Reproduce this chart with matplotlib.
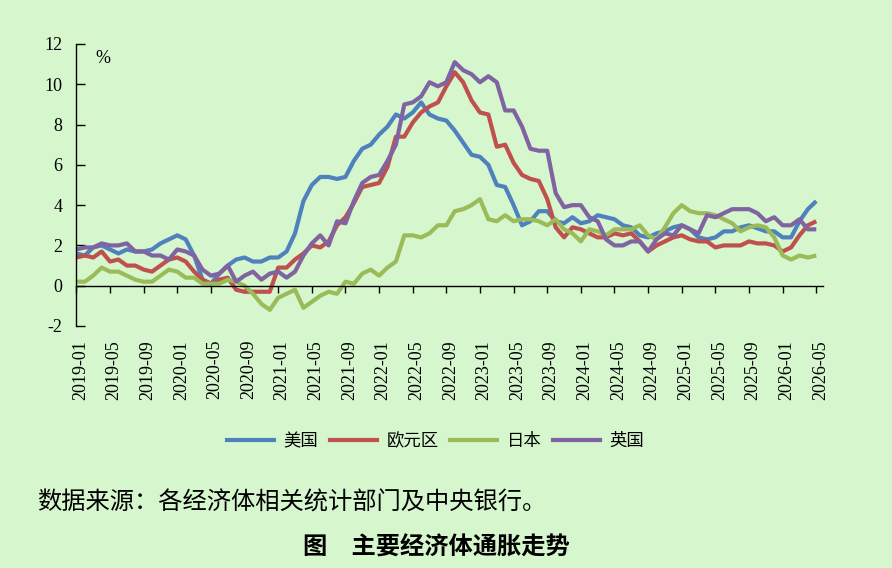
import matplotlib
matplotlib.use("Agg")
import matplotlib.pyplot as plt
import matplotlib.transforms as mtransforms
from matplotlib.lines import Line2D
import pandas as pd

# ---------------- data ----------------
months = list(pd.period_range("2019-01", "2026-05", freq="M").strftime("%Y-%m"))

us = [1.6, 1.5, 1.9, 2.0, 1.8, 1.6, 1.8, 1.7, 1.7, 1.8, 2.1, 2.3,
      2.5, 2.3, 1.5, 0.3, 0.1, 0.6, 1.0, 1.3, 1.4, 1.2, 1.2, 1.4,
      1.4, 1.7, 2.6, 4.2, 5.0, 5.4, 5.4, 5.3, 5.4, 6.2, 6.8, 7.0,
      7.5, 7.9, 8.5, 8.3, 8.6, 9.1, 8.5, 8.3, 8.2, 7.7, 7.1, 6.5,
      6.4, 6.0, 5.0, 4.9, 4.0, 3.0, 3.2, 3.7, 3.7, 3.2, 3.1, 3.4,
      3.1, 3.2, 3.5, 3.4, 3.3, 3.0, 2.9, 2.5, 2.4, 2.6, 2.7, 2.9,
      3.0, 2.8, 2.4, 2.3, 2.4, 2.7, 2.7, 2.9, 3.0, 2.85, 2.7, 2.7,
      2.4, 2.4, 3.2, 3.8, 4.2]

euro = [1.4, 1.5, 1.4, 1.7, 1.2, 1.3, 1.0, 1.0, 0.8, 0.7, 1.0, 1.3,
        1.4, 1.2, 0.7, 0.3, 0.1, 0.3, 0.4, -0.2, -0.3, -0.3, -0.3, -0.3,
        0.9, 0.9, 1.3, 1.6, 2.0, 1.9, 2.2, 3.0, 3.4, 4.1, 4.9, 5.0,
        5.1, 5.9, 7.4, 7.4, 8.1, 8.6, 8.9, 9.1, 9.9, 10.6, 10.1, 9.2,
        8.6, 8.5, 6.9, 7.0, 6.1, 5.5, 5.3, 5.2, 4.3, 2.9, 2.4, 2.9,
        2.8, 2.6, 2.4, 2.4, 2.6, 2.5, 2.6, 2.2, 1.7, 2.0, 2.2, 2.4,
        2.5, 2.3, 2.2, 2.2, 1.9, 2.0, 2.0, 2.0, 2.2, 2.1, 2.1, 2.0,
        1.7, 1.9, 2.5, 3.0, 3.2]

japan = [0.2, 0.2, 0.5, 0.9, 0.7, 0.7, 0.5, 0.3, 0.2, 0.2, 0.5, 0.8,
         0.7, 0.4, 0.4, 0.1, 0.1, 0.1, 0.3, 0.2, 0.0, -0.4, -0.9, -1.2,
         -0.6, -0.4, -0.2, -1.1, -0.8, -0.5, -0.3, -0.4, 0.2, 0.1, 0.6, 0.8,
         0.5, 0.9, 1.2, 2.5, 2.5, 2.4, 2.6, 3.0, 3.0, 3.7, 3.8, 4.0,
         4.3, 3.3, 3.2, 3.5, 3.2, 3.3, 3.3, 3.2, 3.0, 3.3, 2.8, 2.6,
         2.2, 2.8, 2.7, 2.5, 2.8, 2.8, 2.8, 3.0, 2.5, 2.3, 2.9, 3.6,
         4.0, 3.7, 3.6, 3.6, 3.5, 3.3, 3.1, 2.7, 2.9, 3.0, 2.9, 2.4,
         1.5, 1.3, 1.5, 1.4, 1.5]

uk = [1.8, 1.9, 1.9, 2.1, 2.0, 2.0, 2.1, 1.7, 1.7, 1.5, 1.5, 1.3,
      1.8, 1.7, 1.5, 0.8, 0.5, 0.6, 1.0, 0.2, 0.5, 0.7, 0.3, 0.6,
      0.7, 0.4, 0.7, 1.5, 2.1, 2.5, 2.0, 3.2, 3.1, 4.2, 5.1, 5.4,
      5.5, 6.2, 7.0, 9.0, 9.1, 9.4, 10.1, 9.9, 10.1, 11.1, 10.7, 10.5,
      10.1, 10.4, 10.1, 8.7, 8.7, 7.9, 6.8, 6.7, 6.7, 4.6, 3.9, 4.0,
      4.0, 3.4, 3.2, 2.3, 2.0, 2.0, 2.2, 2.2, 1.7, 2.3, 2.6, 2.5,
      3.0, 2.8, 2.6, 3.5, 3.4, 3.6, 3.8, 3.8, 3.8, 3.6, 3.2, 3.4,
      3.0, 3.0, 3.3, 2.8, 2.8]

series_names = ["美国", "欧元区", "日本", "英国"]
series_values = [us, euro, japan, uk]
series_colors = ["#4F81BD", "#C0504D", "#9BBB59", "#8064A2"]

tick_step = 4
tick_labels = months[::tick_step]
y_ticks = [-2, 0, 2, 4, 6, 8, 10, 12]

# ---------------- figure ----------------
bg = "#D6F6CE"
W, H = 892, 568
fig = plt.figure(figsize=(W / 100, H / 100), dpi=100, facecolor=bg)

left_px, right_px, top_px, bot_px = 76.4, 823, 44, 326
ax = fig.add_axes([left_px / W, 1 - bot_px / H, (right_px - left_px) / W, (bot_px - top_px) / H])
ax.set_facecolor(bg)

x = list(range(len(months)))
for name, vals, col in zip(series_names, series_values, series_colors):
    ax.plot(x, vals, color=col, lw=3.0, solid_joinstyle="round", solid_capstyle="butt", label=name)

ax.set_xlim(0, 88.8)
ax.set_ylim(-2, 12)

for s in ["top", "right"]:
    ax.spines[s].set_visible(False)
ax.spines["left"].set_linewidth(1.0)
ax.spines["bottom"].set_position(("data", 0))
ax.spines["bottom"].set_linewidth(1.0)

ax.set_xticks(x[::tick_step])
ax.tick_params(axis="x", direction="out", length=4.8, width=1.0, labelbottom=False)
ax.set_yticks(y_ticks)
ax.set_yticklabels([str(v) for v in y_ticks])
ax.tick_params(axis="y", direction="in", length=6.5, width=1.0, pad=10, labelsize=13)
for lab in ax.get_yticklabels():
    lab.set_fontfamily("Liberation Serif")

sec = ax.secondary_xaxis("bottom")
sec.set_xticks(x[::tick_step])
sec.set_xticklabels(tick_labels, rotation=90, fontsize=13, fontfamily="Liberation Serif")
sec.tick_params(length=0, pad=10)
sec.spines["bottom"].set_visible(False)
offset = mtransforms.ScaledTranslation(4 / 100, 0, fig.dpi_scale_trans)
for lab in sec.get_xticklabels():
    lab.set_transform(lab.get_transform() + offset)

ax.text(0.0356, 0.95, "%", transform=ax.transAxes, ha="center", va="center",
        fontsize=13, fontfamily="Liberation Serif")

cjk = ["Noto Sans CJK SC", "DejaVu Sans"]
handles = [Line2D([], [], color=c, lw=3.0) for c in series_colors]
fig.legend(handles, series_names, loc="center", bbox_to_anchor=(435.5 / W, 1 - 441 / H),
           ncol=4, frameon=False, prop={"family": cjk, "size": 12.5},
           handlelength=2.7, handletextpad=0.57, columnspacing=0.65)

fig.text(37 / W, 1 - 503 / H, "数据来源：各经济体相关统计部门及中央银行。", ha="left", va="center",
         fontsize=17.5, family=cjk)
fig.text(436.5 / W, 1 - 548 / H, "图　主要经济体通胀走势", ha="center", va="center",
         fontsize=17.5, fontweight="bold", family=cjk)

fig.savefig("out.png", dpi=100, facecolor=bg)
